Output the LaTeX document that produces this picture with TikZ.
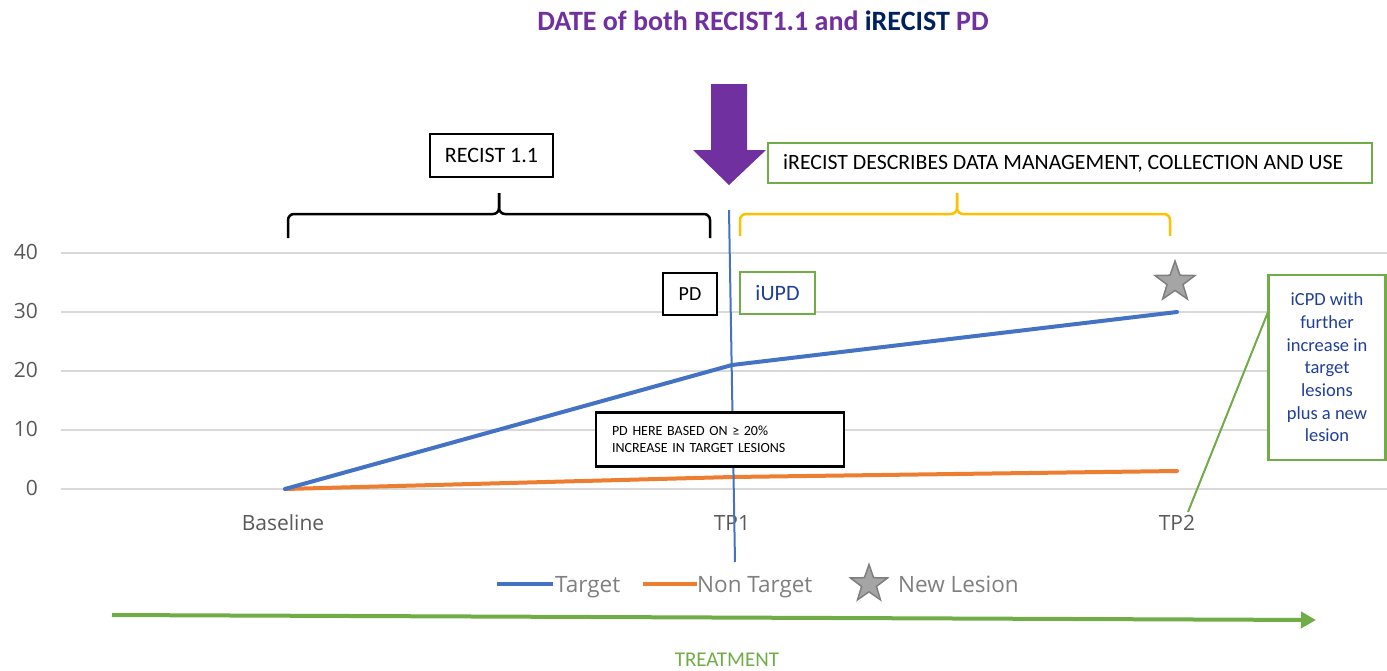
\documentclass[tikz,border=0pt]{standalone}
\usepackage{fontspec}
\setmainfont{Carlito}
\newfontfamily\chartfont{Open Sans}
\usetikzlibrary{shapes.geometric,arrows.meta}
\definecolor{cpurple}{HTML}{7030A0}
\definecolor{cnavy}{HTML}{002060}
\definecolor{cblue}{HTML}{4472C4}
\definecolor{corange}{HTML}{ED7D31}
\definecolor{cgreen}{HTML}{70AD47}
\definecolor{cyellow}{HTML}{FFC000}
\definecolor{cgrid}{HTML}{D9D9D9}
\definecolor{caxis}{HTML}{595959}
\definecolor{clegend}{HTML}{7F7F7F}
\definecolor{ctext}{HTML}{203F99}
\definecolor{cstarfill}{HTML}{A5A5A5}
\definecolor{cstarline}{HTML}{7F7F7F}
\tikzset{
  blackbox/.style={draw=black, line width=2.2pt, inner sep=0pt, align=center},
  greenbox/.style={draw=cgreen, line width=2.2pt, inner sep=0pt, align=center},
  gridline/.style={draw=cgrid, line width=2pt},
  ticklabel/.style={font=\chartfont\fontsize{21}{25}\selectfont, text=caxis},
  leglabel/.style={font=\chartfont\fontsize{22.5}{26}\selectfont, text=clegend, anchor=base west, inner sep=0pt},
  newstar/.style={star, star points=5, star point ratio=2.5, draw=cstarline, fill=cstarfill, line width=1.5pt, inner sep=0pt},
  bracepen/.style={line width=2.5pt, rounded corners=6pt},
}
\begin{document}
\begin{tikzpicture}[x=1pt,y=-1pt]
\useasboundingbox (0,0) rectangle (1387,670);

% title
\node[anchor=base, inner sep=0pt, font=\bfseries\fontsize{28}{33}\selectfont] (title) at (763,30)
  {\textcolor{cpurple}{DATE of both RECIST1.1 and} \textcolor{cnavy}{iRECIST} \textcolor{cpurple}{PD}};

% gridlines
\foreach \v/\yy in {0/489,10/430,20/371,30/312,40/253} {
  \draw[gridline] (61,\yy) -- (1387,\yy);
  \node[ticklabel, anchor=base east, inner sep=0pt] (y\v) at (38,\yy+6) {\v};
}

% category labels
\node[ticklabel, anchor=base, inner sep=0pt] (lbase) at (283,530) {Baseline};
\node[ticklabel, anchor=base, inner sep=0pt] (ltp1) at (732,530) {TP1};
\node[ticklabel, anchor=base, inner sep=0pt] (ltp2) at (1177,530) {TP2};

% data points
\coordinate (t0) at (285,489);
\coordinate (t1) at (732,365);
\coordinate (t2) at (1177,312);
\coordinate (n0) at (285,489);
\coordinate (n1) at (732,477);
\coordinate (n2) at (1177,471);
\draw[corange, line width=4pt, line cap=round, line join=round] (n0) -- (n1) -- (n2);
\draw[cblue, line width=4pt, line cap=round, line join=round] (t0) -- (t1) -- (t2);
\node[newstar, minimum size=42pt] (star) at (1175,282) {};

% vertical date line
\coordinate (vtop) at (729,210);
\coordinate (vbot) at (735,562);
\draw[cblue, line width=2pt] (vtop) -- (vbot);

% purple arrow
\fill[cpurple] (711,84) -- (747,84) -- (747,150) -- (766,150) -- (729,185) -- (693,150) -- (711,150) -- cycle;

% boxes
\node[blackbox, minimum width=123pt, minimum height=43pt, font=\fontsize{22}{26}\selectfont] (recist) at (491.5,155.5) {RECIST 1.1};
\node[greenbox, minimum width=604pt, minimum height=40pt] (irecist) at (1070,163) {};
\node[anchor=west, inner sep=0pt, font=\fontsize{21.8}{26}\selectfont] (irecisttext) at (783,163) {iRECIST DESCRIBES DATA MANAGEMENT, COLLECTION AND USE};
\node[blackbox, fill=white, minimum width=54pt, minimum height=42pt, font=\fontsize{20}{24}\selectfont] (pd) at (690,294) {PD};
\node[greenbox, fill=white, minimum width=75pt, minimum height=42pt, font=\fontsize{22}{26}\selectfont, text=ctext] (iupd) at (777.5,293) {iUPD};
\node[greenbox, fill=white, minimum width=117pt, minimum height=185pt, font=\fontsize{18.5}{22.7}\selectfont, text=ctext] (icpd) at (1327,367.5) {iCPD with\\further\\increase in\\target\\lesions\\plus a new\\lesion};
\node[blackbox, fill=white, minimum width=248pt, minimum height=54pt, align=left, text width=216pt, font=\fontsize{14}{17}\selectfont] (pdhere) at (720,439.5) {PD HERE BASED ON ≥ 20\%\\INCREASE IN TARGET LESIONS};

% connector from iCPD box
\coordinate (icpdend) at (1188,512);
\draw[cgreen, line width=2pt] (1268,312) -- (icpdend);

% braces
\draw[bracepen, black] (288,238) -- (288,214) -- (499,214) -- (499,193);
\draw[bracepen, black] (499,193) -- (499,214) -- (710,214) -- (710,238);
\draw[bracepen, cyellow] (740,236) -- (740,214) -- (957,214) -- (957,193);
\draw[bracepen, cyellow] (957,193) -- (957,214) -- (1170,214) -- (1170,236);

% legend
\coordinate (lgb1) at (497,584); \coordinate (lgb2) at (553,584);
\draw[cblue, line width=4pt] (lgb1) -- (lgb2);
\node[leglabel] (legt) at (555,592) {Target};
\coordinate (lgo1) at (643,584); \coordinate (lgo2) at (697,584);
\draw[corange, line width=4pt] (lgo1) -- (lgo2);
\node[leglabel] (legn) at (697,592) {Non Target};
\node[newstar, minimum size=39pt] (legstar) at (869,584) {};
\node[leglabel] (legs) at (898,592) {New Lesion};

% treatment arrow
\coordinate (tra) at (112,615);
\coordinate (trb) at (1316,620);
\draw[cgreen, line width=4pt, -{Triangle[length=15pt,width=16pt]}] (tra) -- (trb);
\node[anchor=base, inner sep=0pt, text=cgreen, font=\fontsize{21}{25}\selectfont] (treat) at (727,666) {TREATMENT};
\end{tikzpicture}
\end{document}
